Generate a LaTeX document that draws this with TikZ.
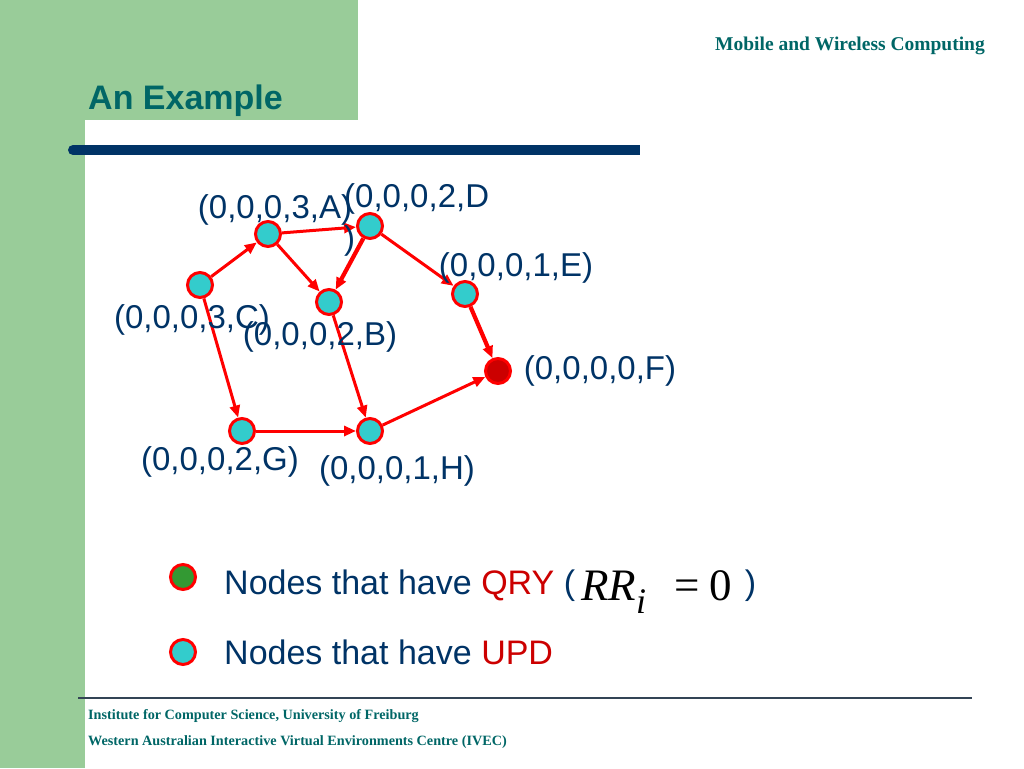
\documentclass[tikz,border=0pt]{standalone}
\usepackage{fontspec}
\setmainfont{Liberation Sans}
\newfontfamily\tnr{Liberation Serif}
\usetikzlibrary{arrows.meta}
\definecolor{bggreen}{RGB}{153,204,153}
\definecolor{titleteal}{RGB}{0,102,102}
\definecolor{navytext}{RGB}{0,51,102}
\definecolor{edgered}{RGB}{255,0,0}
\definecolor{qryred}{RGB}{204,0,0}
\definecolor{nodecyan}{RGB}{51,204,204}
\definecolor{legendgreen}{RGB}{51,153,51}
\definecolor{footline}{RGB}{51,68,85}
\tikzset{
  vert/.style={circle, draw=edgered, line width=3pt, fill=nodecyan, minimum size=25pt, inner sep=0pt},
  sinkvert/.style={vert, fill=qryred},
  lbl/.style={font=\fontsize{33}{39}\selectfont, text=navytext, inner sep=0pt},
  edge/.style={draw=edgered, line width=3pt, -{Triangle[length=12pt,width=10pt]}},
  thickedge/.style={edge, line width=4.2pt},
  foot/.style={font=\tnr\bfseries\fontsize{14.2}{16}\selectfont, text=titleteal, anchor=base west, inner sep=0pt},
}
\begin{document}
\begin{tikzpicture}[x=1pt,y=-1pt]
\useasboundingbox (0,0) rectangle (1024,768);
% background decorations
\fill[bggreen] (0,0) rectangle (358,120);
\fill[bggreen] (0,0) rectangle (85,768);
\draw[navytext, line width=10pt, line cap=round] (73,150) -- (100,150);
\draw[navytext, line width=10pt] (90,150) -- (640,150);
\draw[footline, line width=1.2pt] (78,698) -- (972,698);
% header texts
\node[font=\bfseries\fontsize{34}{40}\selectfont, text=titleteal, anchor=base west, inner sep=0pt] (title) at (88,109) {An Example};
\node[font=\tnr\bfseries\fontsize{19.5}{22}\selectfont, text=titleteal, anchor=base east, inner sep=0pt] (course) at (985,50) {Mobile and Wireless Computing};
\node[foot] (foot1) at (88,719) {Institute for Computer Science, University of Freiburg};
\node[foot] (foot2) at (88,745) {Western Australian Interactive Virtual Environments Centre (IVEC)};
% graph nodes
\node[vert] (A) at (268,234) {};
\node[vert] (D) at (370,226) {};
\node[vert] (C) at (200,285) {};
\node[vert] (B) at (329,302) {};
\node[vert] (E) at (465,294) {};
\node[sinkvert] (F) at (498,371) {};
\node[vert] (G) at (242,431) {};
\node[vert] (H) at (370,431) {};
% edges
\draw[edge] (C) -- (A);
\draw[edge] (A) -- (D);
\draw[edge] (A) -- (B);
\draw[thickedge] (D) -- (B);
\draw[edge] (D) -- (E);
\draw[thickedge] (E) -- (F);
\draw[edge] (C) -- (G);
\draw[edge] (B) -- (H);
\draw[edge] (G) -- (H);
\draw[edge] (H) -- (F);
% labels
\node[lbl] (lA) at (275,210) {(0,0,0,3,A)};
\node[lbl, align=left, anchor=north west, font=\fontsize{33}{42}\selectfont] (lD) at (344,183) {(0,0,0,2,D\\)};
\node[lbl] (lE) at (516,268) {(0,0,0,1,E)};
\node[lbl] (lC) at (192,320) {(0,0,0,3,C)};
\node[lbl] (lB) at (320,337) {(0,0,0,2,B)};
\node[lbl] (lF) at (600,371) {(0,0,0,0,F)};
\node[lbl] (lG) at (220,462) {(0,0,0,2,G)};
\node[lbl] (lH) at (397,471) {(0,0,0,1,H)};
% legend
\node[vert, fill=legendgreen] (qry) at (183,577) {};
\node[vert] (upd) at (183,652) {};
\node[lbl, anchor=base west, font=\fontsize{34}{40}\selectfont] (tqry) at (224,594) {Nodes that have \textcolor{qryred}{QRY} (\hspace{6pt}\raisebox{-6pt}{\color{black}\tnr\fontsize{45}{48}\selectfont\itshape RR\raisebox{-13pt}{\fontsize{36}{38}\selectfont i}\hspace{28pt}\upshape=\hspace{10pt}0}\hspace{13pt})};
\node[lbl, anchor=base west, font=\fontsize{34}{40}\selectfont] (tupd) at (224,664) {Nodes that have \textcolor{qryred}{UPD}};
\end{tikzpicture}
\end{document}
